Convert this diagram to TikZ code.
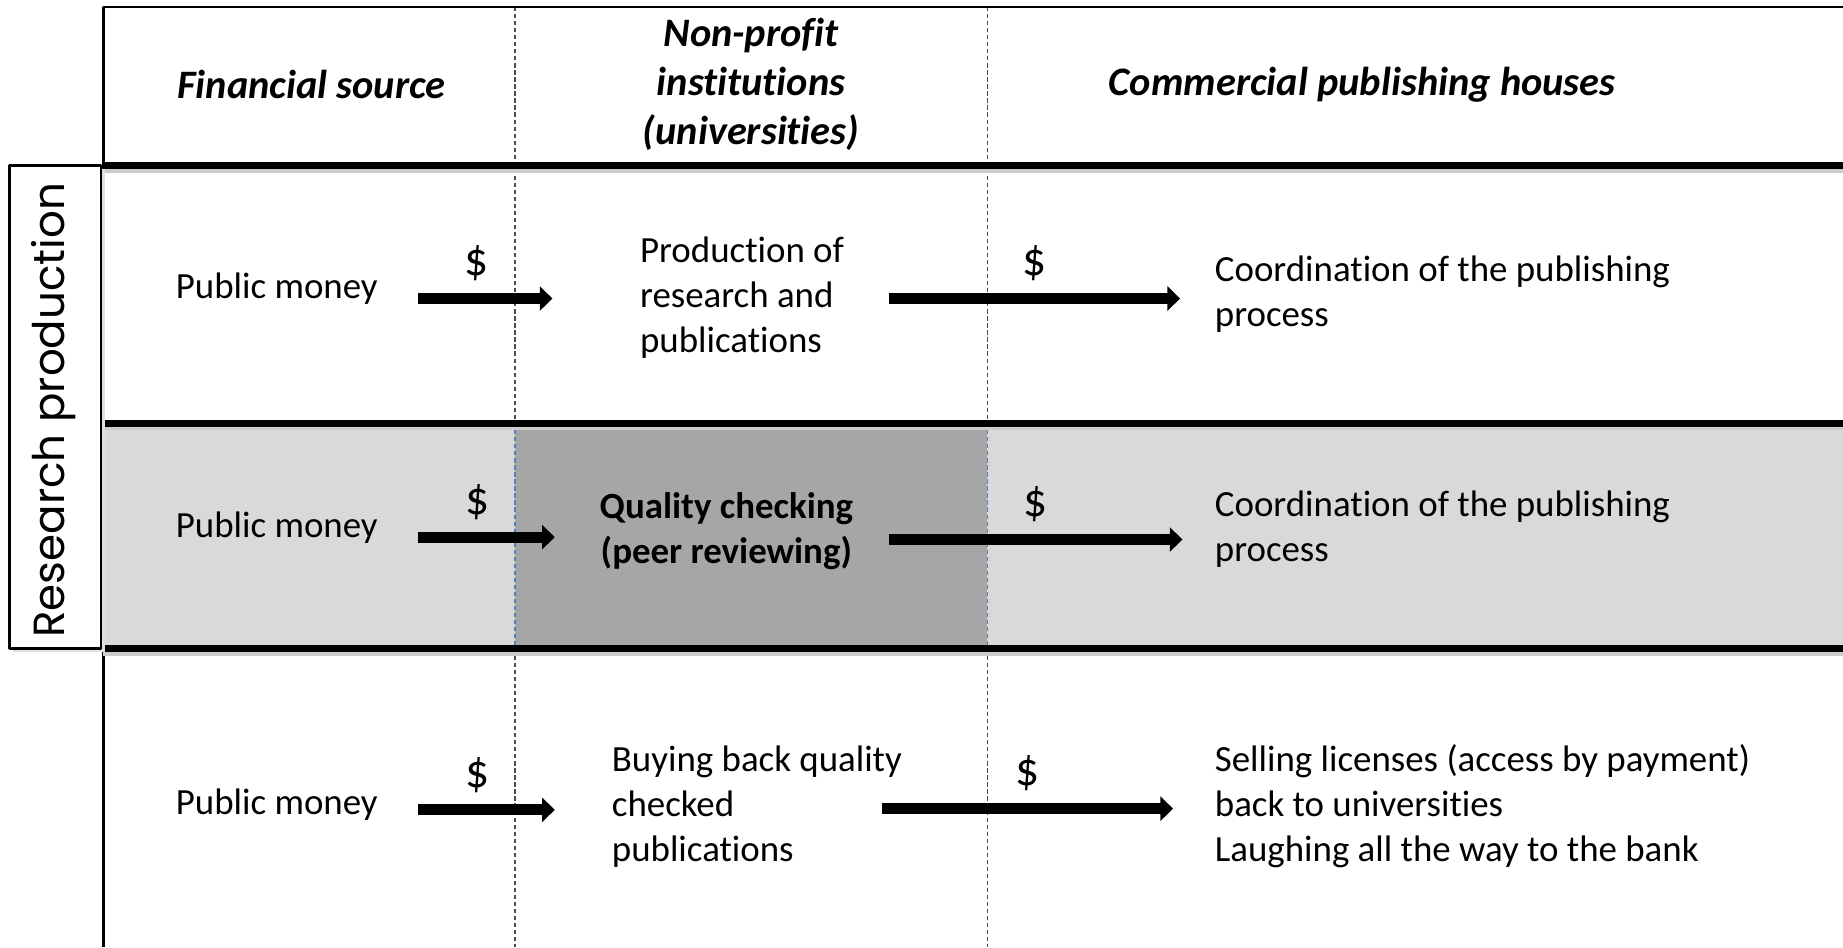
\documentclass[tikz,border=0pt]{standalone}
\usepackage{fontspec}
\setmainfont{Carlito}[Ligatures=NoCommon]
\newfontfamily\sidefont{Poppins}
\usetikzlibrary{arrows.meta}
\definecolor{lightcell}{HTML}{D9D9D9}
\definecolor{darkcell}{HTML}{A6A6A6}
\definecolor{cellblue}{HTML}{4F81BD}
\tikzset{
	txt/.style={anchor=west, align=left, inner sep=0pt, font=\fontsize{10.5}{12.8}\selectfont},
	hdr/.style={align=center, inner sep=0pt, font=\fontsize{11.5}{14}\selectfont\bfseries\itshape},
	money/.style={line width=3.1pt, -{Triangle[width=6.8pt,length=3.6pt]}},
	dollar/.style={above=3.4pt, inner sep=0pt, font=\fontsize{13.5}{13.5}\selectfont},
	thickrule/.style={line width=2pt},
	colline/.style={line width=0.4pt, dash pattern=on 1.2pt off 0.8pt, black!70},
}
\begin{document}
\begin{tikzpicture}[x=0.11754mm, y=-0.11754mm, line join=round]
	\useasboundingbox (0,0) rectangle (1568,806);
	% cells of the shaded row
	\fill[lightcell] (88,360) rectangle (1568,552);
	\fill[darkcell] (438,360) rectangle (840,552);
	% column lines
	\foreach \x in {438,840}{
		\draw[colline] (\x,6) -- (\x,360) (\x,552) -- (\x,806);
		\draw[colline, cellblue] (\x,360) -- (\x,552);
	}
	\draw[line width=0.8pt] (1568,6) -- (88,6) -- (88,806);
	\foreach \y in {141,360,552}{
		\draw[thickrule, black!20] (88,\y+3) -- (1568,\y+3);
		\draw[thickrule] (88,\y) -- (1568,\y);
	}
	% side label
	\fill[black!12] (11,144) rectangle (89,555);
	\draw[line width=0.8pt, fill=white] (8,141) rectangle (86,552);
	\node[rotate=90, inner sep=0pt, font=\sidefont\fontsize{12.4}{12.4}\selectfont] (side) at (46,349) {Research production};
	% headers
	\node[hdr] (fin) at (265,72) {Financial source};
	\node[hdr] (npi) at (639,72) {Non-profit\\institutions\\(universities)};
	\node[hdr] (com) at (1159,72) {Commercial publishing houses};
	% row texts
	\foreach \r/\y in {1/246,2/449,3/685}
	\node[txt] (pm\r) at (149,\y) {Public money};
	\node[txt] (prod) at (544,253) {Production of\\research and\\publications};
	\node[align=center, inner sep=0pt, font=\fontsize{10.5}{12.8}\selectfont\bfseries] (qual) at (618,452) {Quality checking\\(peer reviewing)};
	\node[txt] (buy) at (520,686) {Buying back quality\\checked\\publications};
	\node[txt] (coordA) at (1033,250) {Coordination of the publishing\\process};
	\node[txt] (coordB) at (1033,450) {Coordination of the publishing\\process};
	\node[txt] (sell) at (1033,686) {Selling licenses (access by payment)\\back to universities\\Laughing all the way to the bank};
	% money flows
	\path
	(356,254) coordinate (a1) (470,254) coordinate (b1)
	(756,254) coordinate (c1) (1004,254) coordinate (d1)
	(356,457) coordinate (a2) (472,457) coordinate (b2)
	(756,459) coordinate (c2) (1006,459) coordinate (d2)
	(356,689) coordinate (a3) (472,689) coordinate (b3)
	(750,688) coordinate (c3) (998,688) coordinate (d3)
	;
	\foreach \r in {1,2,3}{
		\draw[money] (a\r) -- (b\r) node[dollar, pos=0.43] (fa\r) {\$};
		\draw[money] (c\r) -- (d\r) node[dollar, pos=0.5] (fb\r) {\$};
	}
\end{tikzpicture}
\end{document}
